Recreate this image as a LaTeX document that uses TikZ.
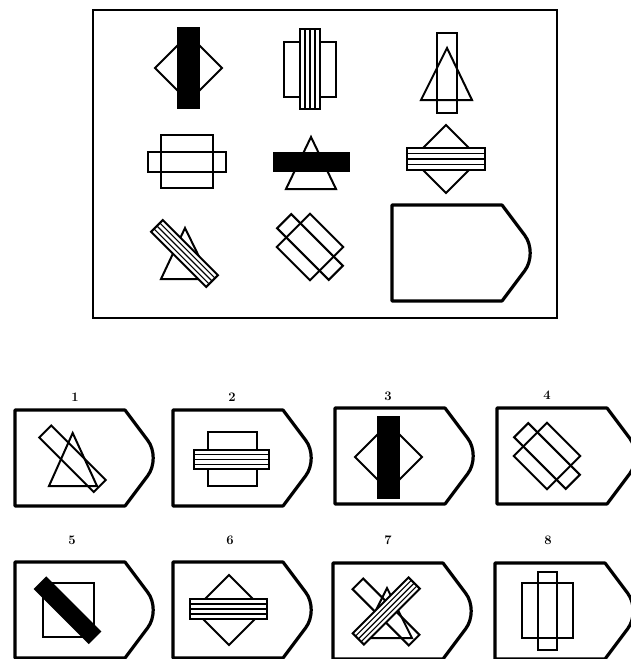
\documentclass[tikz,border=0pt]{standalone}
\begin{document}
\begin{tikzpicture}[x=1pt,y=-1pt,
  shp/.style={line width=2pt, line join=miter},
  fineline/.style={line width=1.1pt},
  boxline/.style={line width=3.2pt, line join=round},
  lbl/.style={font=\fontsize{13}{13}\selectfont\bfseries, inner sep=0pt},
  pics/abox/.style={code={
    \draw[boxline] (0,0) -- (110,0) -- (132.8,30.4) .. controls (140,40) and (140,56) .. (132.8,65.6) -- (110,96) -- (0,96) -- cycle;}},
  pics/sbar/.style n args={2}{code={
    \draw[shp, fill=white] ({-#1/2},{-#2/2}) rectangle ({#1/2},{#2/2});
    \foreach \k in {1,2,3} \draw[fineline] ({-#1/2},{-#2/2+\k*#2/4}) -- ({#1/2},{-#2/2+\k*#2/4});}},
  pics/wbar/.style n args={2}{code={
    \draw[shp] ({-#1/2},{-#2/2}) rectangle ({#1/2},{#2/2});}},
  pics/bbar/.style n args={2}{code={
    \draw[shp, fill=black] ({-#1/2},{-#2/2}) rectangle ({#1/2},{#2/2});}},
  pics/sqbar/.style={code={
    \draw[shp] (-23.5,-23.5) rectangle (23.5,23.5);
    \draw[shp] (-36.5,-10) rectangle (36.5,10);}}
]
\useasboundingbox (0,0) rectangle (630,659);
\fill[white] (0,0) rectangle (630,659);

% puzzle frame
\draw[line width=1.6pt] (93,10) rectangle (557,318);

% row 1
\draw[shp] (155,68) -- (188.5,34.5) -- (222,68) -- (188.5,101.5) -- cycle;
\draw[shp, fill=black] (178,28) rectangle (199,108);

\draw[shp] (284,42) rectangle (336,97);
\pic[rotate=90] at (310,69) {sbar={80}{20}};

\draw[shp] (437,33) rectangle (457,113);
\draw[shp] (447,48) -- (421,100) -- (472,100) -- cycle;

% row 2
\draw[shp] (161,135) rectangle (213,188);
\draw[shp] (148,152) rectangle (226,172);

\draw[shp] (311,137) -- (286,189) -- (336,189) -- cycle;
\draw[shp, fill=black] (274,153) rectangle (349,171);

\draw[shp] (412,159) -- (446,125) -- (480,159) -- (446,193) -- cycle;
\pic at (446,159) {sbar={78}{22}};

% row 3
\draw[shp] (185,228) -- (161,279) -- (210,279) -- cycle;
\pic[rotate=-45] at (184.5,253.5) {sbar={78}{16.5}};

\pic[rotate=-45] at (310,247) {sqbar};

\pic at (392,205) {abox};

% answers row 1
\pic at (15,410) {abox};
\node[lbl] (n1) at (75,397) {1};
\draw[shp] (72.7,433) -- (49,486) -- (97,486) -- cycle;
\pic[rotate=-45] at (72.5,458.75) {wbar={77}{17}};

\pic at (173,410) {abox};
\node[lbl] (n2) at (232,397) {2};
\draw[shp] (208,432) rectangle (257,486);
\pic at (231.5,459.5) {sbar={75}{19}};

\pic at (335,408) {abox};
\node[lbl] (n3) at (388,396) {3};
\draw[shp] (355,457) -- (388.5,423.5) -- (422,457) -- (388.5,490.5) -- cycle;
\draw[shp, fill=black] (378,417) rectangle (399,498);

\pic at (497,408) {abox};
\node[lbl] (n4) at (547,395) {4};
\pic[rotate=-45] at (547,456) {sqbar};

% answers row 2
\pic at (15,562) {abox};
\node[lbl] (n5) at (72,540) {5};
\draw[shp] (43,583) rectangle (94,637);
\pic[rotate=-45] at (67.5,610.25) {bbar={76}{16}};

\pic at (173,562) {abox};
\node[lbl] (n6) at (230,540) {6};
\draw[shp] (194,610) -- (229,575) -- (264,610) -- (229,645) -- cycle;
\pic at (228.5,609) {sbar={77}{20}};

\pic at (333,563) {abox};
\node[lbl] (n7) at (388,540) {7};
\draw[shp] (387,588) -- (362,638) -- (412,638) -- cycle;
\pic[rotate=-45] at (386,612) {wbar={79.5}{15}};
\pic[rotate=45] at (386.25,611) {sbar={79}{16}};

\pic at (495,563) {abox};
\node[lbl] (n8) at (548,540) {8};
\draw[shp] (522,583) rectangle (573,638);
\draw[shp] (538,572) rectangle (557,650);
\end{tikzpicture}
\end{document}
